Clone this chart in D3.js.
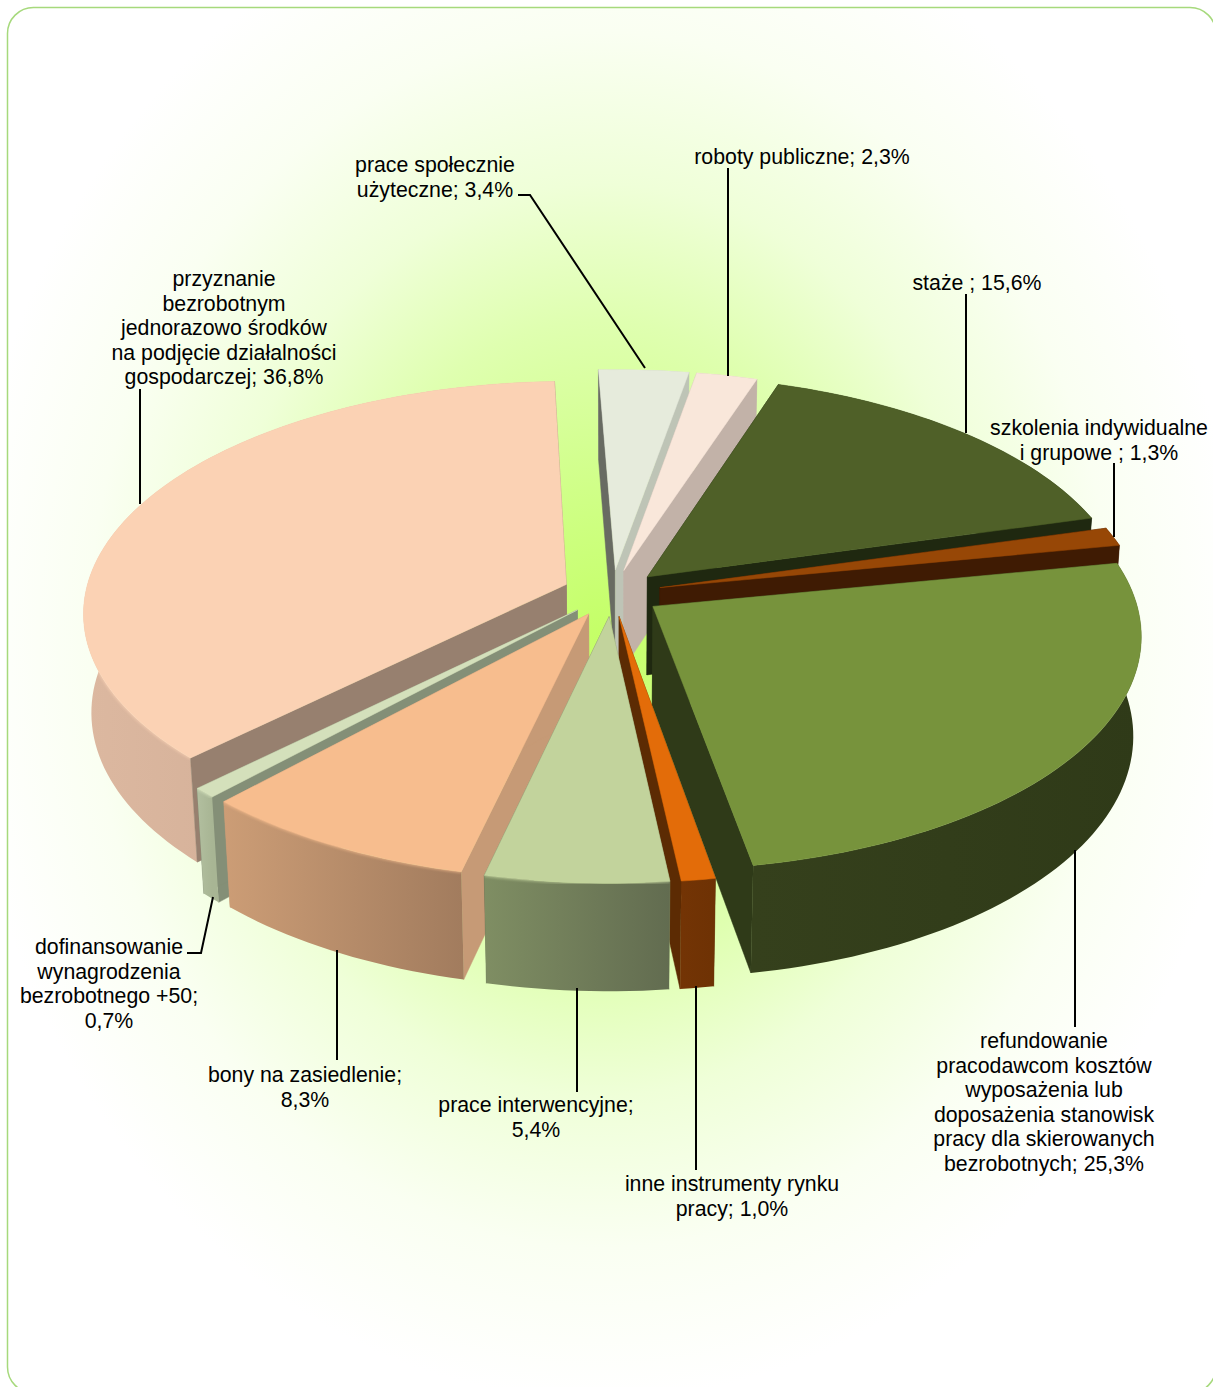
<!DOCTYPE html>
<html>
<head>
<meta charset="utf-8">
<script src="https://cdn.jsdelivr.net/npm/d3@7"></script>
<style>
    body { margin: 0; background: #fff; }
    text { font-family: "Liberation Sans", Arial, sans-serif; font-size: 21.3px; fill: #000; }
</style>
</head>
<body>
<script>
// pie data, clockwise from the slice right of the top
const names = [
    ["roboty publiczne; "],
    ["staże ; "],
    ["szkolenia indywidualne", "i grupowe ; "],
    ["refundowanie", "pracodawcom kosztów", "wyposażenia lub", "doposażenia stanowisk", "pracy dla skierowanych", "bezrobotnych; "],
    ["inne instrumenty rynku", "pracy; "],
    ["prace interwencyjne;", ""],
    ["bony na zasiedlenie;", ""],
    ["dofinansowanie", "wynagrodzenia", "bezrobotnego +50;", ""],
    ["przyznanie", "bezrobotnym", "jednorazowo środków", "na podjęcie działalności", "gospodarczej; "],
    ["prace społecznie", "użyteczne; "]
];
const values = [2.3, 15.6, 1.3, 25.3, 1.0, 5.4, 8.3, 0.7, 36.8, 3.4];

// colours, same order
const topColors = ["#f9e7da", "#4f6028", "#974706", "#77933c", "#e36c09", "#c2d39c", "#f7bd8e", "#d4e0bb", "#fbd2b4", "#e6ebdc"];
const outerLeft = ["#c2b2a8", "#1f2810", "#3f1b03", "#35401c", "#733405", "#7f8e63", "#cc9d76", "#b2bf9f", "#dcb8a0", "#bec4b6"];
const outerRight = ["#c2b2a8", "#1f2810", "#3f1b03", "#2f3a18", "#6e3204", "#626c50", "#a27c5e", "#a8b594", "#c9a48d", "#bec4b6"];
const startWalls = ["#c2b2a8", "#1f2810", "#3f1b03", "#2f3a18", "#5c2b03", "#7f8e63", "#c69a76", "#848f77", "#97806f", "#686b62"];
const endWalls = ["#c2b2a8", "#1f2810", "#3f1b03", "#2f3a18", "#5c2b03", "#626c50", "#c69a76", "#848f77", "#97806f", "#bec4b6"];

// back to front
const paintOrder = [8, 9, 0, 1, 2, 3, 7, 6, 4, 5];
// these have a soft edge between top and rim
const softEdge = [5, 6, 7, 8];

// label centre x, first line middle y and the leader polyline
const labelLayout = [
    { x: 802, y: 157, leader: [[728, 168], [728, 376]] },
    { x: 977, y: 283, leader: [[966, 294], [966, 433]] },
    { x: 1099, y: 428, leader: [[1114, 463], [1114, 537]] },
    { x: 1044, y: 1041, leader: [[1075, 1027], [1075, 850]] },
    { x: 732, y: 1184, leader: [[696, 1170], [696, 986]] },
    { x: 536, y: 1105, leader: [[577, 1092], [577, 988]] },
    { x: 305, y: 1075, leader: [[337, 1060], [337, 950]] },
    { x: 109, y: 947, leader: [[187, 953], [201, 953], [213, 897]] },
    { x: 224, y: 279, leader: [[140, 389], [140, 504]] },
    { x: 435, y: 165, leader: [[518, 195], [530, 195], [645, 368]] }
];

const width = 1213;
const height = 1387;
const cx = 612;
const cy = 593;
const R = 481;
const squash = 229;     // vertical radius of the disc
const persp = 0.118;    // top face perspective
const thick = 100;      // depth of the pie
const thickPersp = 0.015;
const explode = 0.1025;
const firstAngle = 10.0 * Math.PI / 180;

const xs = d3.scaleLinear().domain([-1, 1]).range([-R, R]);
const ys = d3.scaleLinear().domain([-1, 1]).range([squash, -squash]);

// disc coordinates -> screen, level 0 = top face, 1 = bottom
function project(px, py, level) {
    const w = 1 + persp * py + thickPersp * level;
    return [cx + xs(px) / w, cy + (ys(py) + thick * level) / w];
}

const svg = d3.select("body").append("svg")
    .attr("width", width)
    .attr("height", height)
    .style("display", "block");

const defs = svg.append("defs");

const glow = defs.append("radialGradient")
    .attr("id", "glow")
    .attr("gradientUnits", "userSpaceOnUse")
    .attr("cx", 0).attr("cy", 0).attr("r", 1)
    .attr("gradientTransform", "translate(600,640) scale(640,760)");
[[0, "#c4ff66"], [0.2, "#d0ff88"], [0.42, "#dfffb0"], [0.6, "#efffd8"], [0.8, "#fafff2"], [1, "#ffffff"]]
    .forEach(s => glow.append("stop").attr("offset", s[0]).attr("stop-color", s[1]));

defs.append("filter")
    .attr("id", "soft")
    .append("feGaussianBlur")
    .attr("stdDeviation", 1.2);

svg.append("rect")
    .attr("x", 7.5).attr("y", 7.5)
    .attr("width", 1208.5).attr("height", 1385.5)
    .attr("rx", 26)
    .attr("fill", "url(#glow)")
    .attr("stroke", "#a6d97c")
    .attr("stroke-width", 1.5);

const arcs = d3.pie().sort(null).value(d => d)
    .startAngle(firstAngle)
    .endAngle(firstAngle + 2 * Math.PI)(values);

const line = d3.line();

arcs.forEach(d => {
    d.mid = (d.startAngle + d.endAngle) / 2;
    d.ox = explode * Math.sin(d.mid);
    d.oy = explode * Math.cos(d.mid);
});

function rim(d, level) {
    const steps = Math.max(2, Math.ceil((d.endAngle - d.startAngle) * 40));
    return d3.range(steps + 1).map(k => {
        const a = d.startAngle + (d.endAngle - d.startAngle) * k / steps;
        return project(d.ox + Math.sin(a), d.oy + Math.cos(a), level);
    });
}

const slices = svg.append("g");

paintOrder.forEach(i => {
    const d = arcs[i];
    const g = slices.append("g");
    const top = rim(d, 0);
    const bottom = rim(d, 1);
    const apex0 = project(d.ox, d.oy, 0);
    const apex1 = project(d.ox, d.oy, 1);
    const outerShape = line(top.concat(bottom.slice().reverse())) + "Z";

    const xr = d3.extent(top, p => p[0]);
    const grad = defs.append("linearGradient")
        .attr("id", "outer" + i)
        .attr("gradientUnits", "userSpaceOnUse")
        .attr("x1", xr[0]).attr("x2", xr[1])
        .attr("y1", 0).attr("y2", 0);
    grad.append("stop").attr("offset", 0).attr("stop-color", outerLeft[i]);
    grad.append("stop").attr("offset", 1).attr("stop-color", outerRight[i]);

    const outerWall = () => g.append("path")
        .attr("d", outerShape)
        .attr("fill", "url(#outer" + i + ")");

    const wall = (a, b, color) => g.append("path")
        .attr("d", line([apex0, a, b, apex1]) + "Z")
        .attr("fill", color)
        .attr("stroke", color)
        .attr("stroke-width", 0.5);

    // back slices: rim is behind the cut faces, front slices the other way
    const isBack = Math.cos(d.mid) > 0;
    if (isBack) outerWall();
    wall(top[0], bottom[0], startWalls[i]);
    wall(top[top.length - 1], bottom[bottom.length - 1], endWalls[i]);
    if (!isBack) outerWall();

    if (softEdge.includes(i)) {
        defs.append("clipPath")
            .attr("id", "clip" + i)
            .append("path")
            .attr("d", outerShape);
        g.append("g")
            .attr("clip-path", "url(#clip" + i + ")")
            .append("path")
            .attr("d", line(top))
            .attr("fill", "none")
            .attr("stroke", topColors[i])
            .attr("stroke-width", 3)
            .attr("stroke-opacity", 0.55)
            .attr("filter", "url(#soft)");
    }

    g.append("path")
        .attr("d", line([apex0].concat(top)) + "Z")
        .attr("fill", topColors[i])
        .attr("stroke", topColors[i])
        .attr("stroke-width", 0.5);
});

// leaders and labels
const percent = v => d3.format(".1f")(v).replace(".", ",") + "%";

svg.append("g").selectAll("path")
    .data(labelLayout)
    .join("path")
    .attr("d", d => line(d.leader))
    .attr("fill", "none")
    .attr("stroke", "#000")
    .attr("stroke-width", 2);

const labels = svg.append("g").selectAll("text")
    .data(names)
    .join("text")
    .attr("text-anchor", "middle");

labels.each(function(lines, i) {
    const el = d3.select(this);
    lines.forEach((t, k) => {
        const isLast = k === lines.length - 1;
        el.append("tspan")
            .attr("x", labelLayout[i].x)
            .attr("y", labelLayout[i].y + k * 24.5 + 7)
            .text(isLast ? t + percent(values[i]) : t);
    });
});
</script>
</body>
</html>
